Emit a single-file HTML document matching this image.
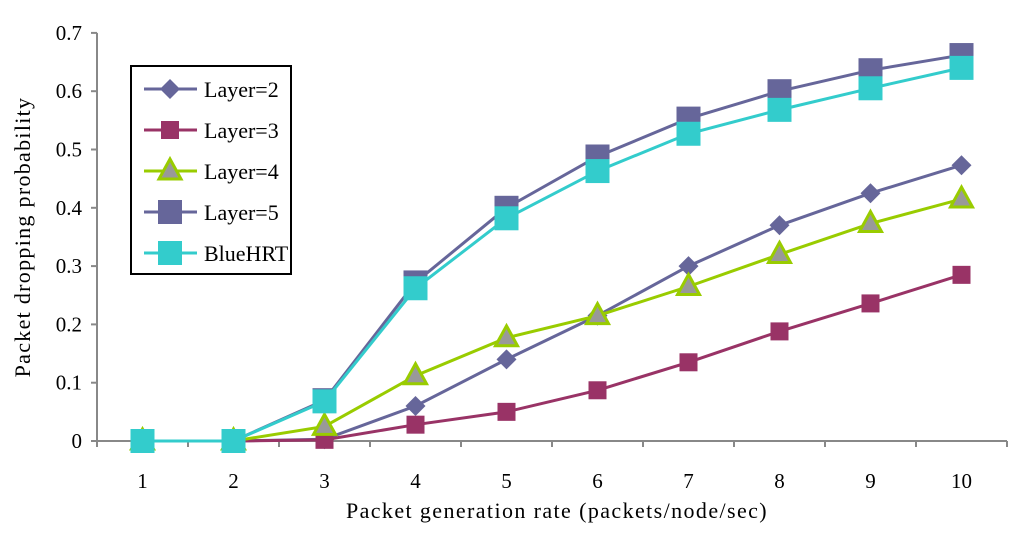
<!DOCTYPE html>
<html><head><meta charset="utf-8"><style>
html,body{margin:0;padding:0;background:#fff;}
svg text{font-family:"Liberation Serif",serif;fill:#000;}
</style></head><body>
<svg id="chart" width="1024" height="532" viewBox="0 0 1024 532" xmlns="http://www.w3.org/2000/svg">
<g id="axes"></g>
<g id="series"></g>
<text x="0" y="0" font-size="22" letter-spacing="1.3" text-anchor="middle" transform="translate(30,237) rotate(-90)">Packet  dropping  probability</text>
<text x="557" y="518" font-size="22" letter-spacing="1.4" text-anchor="middle">Packet  generation  rate (packets/node/sec)</text>
<g id="legend">
<rect x="131" y="66" width="160" height="208" fill="#fff" stroke="#000" stroke-width="2"/>
</g>
</svg>
<script>
const categories = [1,2,3,4,5,6,7,8,9,10];
const yTicks = [0,0.1,0.2,0.3,0.4,0.5,0.6,0.7];
const seriesNames = ["Layer=2","Layer=3","Layer=4","Layer=5","BlueHRT"];
const layer2 = [0,0,0.003,0.06,0.14,0.215,0.30,0.37,0.425,0.473];
const layer3 = [0,0,0.002,0.028,0.05,0.087,0.135,0.188,0.236,0.285];
const layer4 = [0,0,0.025,0.112,0.177,0.215,0.265,0.32,0.373,0.415];
const layer5 = [0,0,0.07,0.272,0.40,0.488,0.553,0.60,0.636,0.662];
const blueHRT = [0,0,0.068,0.262,0.382,0.463,0.527,0.568,0.605,0.64];

const NS="http://www.w3.org/2000/svg";
const X0=97, CW=91, Y0=441, YS=583;
const xPos=i=>X0+CW*(i+0.5);
const yPos=v=>Y0-v*YS;
function mk(tag,attrs,parent){const e=document.createElementNS(NS,tag);for(const k in attrs)e.setAttribute(k,attrs[k]);parent.appendChild(e);return e;}
const axes=document.getElementById('axes');
let a=mk('line',{x1:X0,y1:yPos(0.7),x2:X0,y2:Y0,stroke:'#888','stroke-width':2},axes);


a=mk('line',{x1:X0,y1:Y0,x2:X0+CW*categories.length,y2:Y0,stroke:'#888','stroke-width':2},axes);


yTicks.forEach(v=>{
  const t=mk('line',{x1:X0-6,y1:yPos(v),x2:X0,y2:yPos(v),stroke:'#888','stroke-width':2},axes);
  
  
  const l=mk('text',{x:X0-15,y:yPos(v)+7,'font-size':21,'text-anchor':'end'},axes);
  l.textContent=v===0?'0':v.toFixed(1);
  
  
});
for(let i=0;i<=categories.length;i++){
  const t=mk('line',{x1:X0+CW*i,y1:Y0,x2:X0+CW*i,y2:Y0+6,stroke:'#888','stroke-width':2},axes);
  
  
}
categories.forEach((c,i)=>{
  const l=mk('text',{x:xPos(i),y:Y0+47,'font-size':21,'text-anchor':'middle'},axes);
  l.textContent=c;
  
  
});
function marker(type,x,y,color,parent){
  let m;
  if(type==='diamond'){m=mk('polygon',{points:`${x},${y-10} ${x+10},${y} ${x},${y+10} ${x-10},${y}`,fill:color},parent);}
  else if(type==='sq'){m=mk('rect',{x:x-9,y:y-9,width:18,height:18,fill:color},parent);}
  else if(type==='bigsq'){m=mk('rect',{x:x-12,y:y-12,width:24,height:24,fill:color},parent);}
  else {m=mk('polygon',{points:`${x},${y-12} ${x+11},${y+8} ${x-11},${y+8}`,fill:'#999',stroke:color,'stroke-width':3},parent);}
  return m;
}
const defs=[
  {d:layer2,c:'#66669a',m:'diamond'},
  {d:layer3,c:'#993366',m:'sq'},
  {d:layer4,c:'#99cc00',m:'tri'},
  {d:layer5,c:'#66669a',m:'bigsq'},
  {d:blueHRT,c:'#33cccc',m:'bigsq'}
];
const sg=document.getElementById('series');
defs.forEach((s,k)=>{
  const g=mk('g',{},sg);
  
  
  const p=mk('polyline',{points:s.d.map((v,i)=>xPos(i)+','+yPos(v)).join(' '),fill:'none',stroke:s.c,'stroke-width':3},g);
  
  
  s.d.forEach((v,i)=>{
    const m=marker(s.m,xPos(i),yPos(v),s.c,g);
    
    
  });
});
const lg=document.getElementById('legend');
defs.forEach((s,k)=>{
  const y=89+k*41;
  const g=mk('g',{},lg);
  
  
  mk('line',{x1:144,y1:y,x2:197,y2:y,stroke:s.c,'stroke-width':3},g);
  marker(s.m,170,y,s.c,g);
  const t=mk('text',{x:204,y:y+8,'font-size':22},g);
  t.textContent=seriesNames[k];
});
</script>
</body></html>
